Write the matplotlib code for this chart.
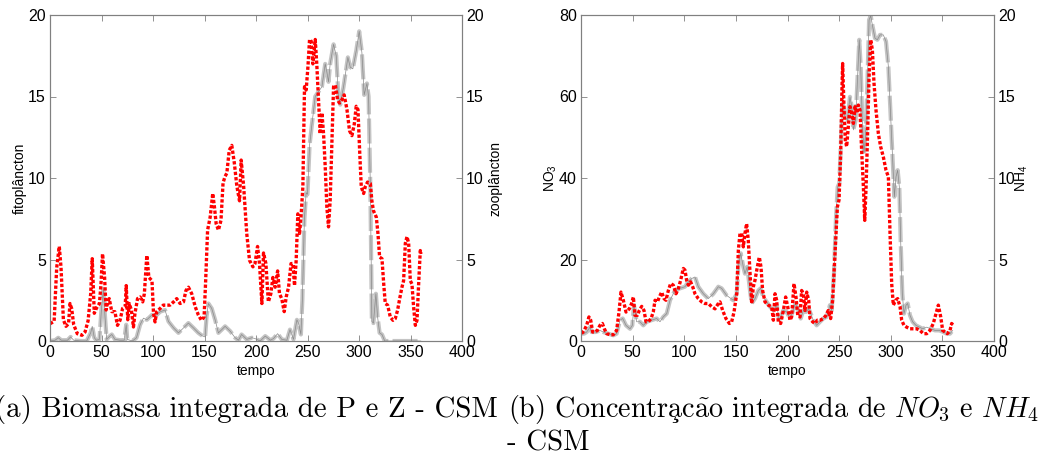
import matplotlib
matplotlib.use("Agg")
import matplotlib.pyplot as plt

# ---------------- data: panel (a) ----------------
fito_t = [0, 4, 6.5, 9, 10.7, 13, 15.5, 18, 19.4, 21, 23, 26.5, 31, 34, 37, 39.5, 41, 43, 45, 48,
          49.5, 51, 53, 54.5, 56, 57.5, 60, 63, 65.5, 68, 70.5, 73, 74, 75.5, 77, 79, 81, 82.5, 85,
          87.5, 90, 91.6, 94, 96, 99, 100.5, 102, 103.6, 107, 110, 113, 116.5, 120, 123, 126.3,
          129.6, 132, 134.4, 137.6, 141, 144, 147, 149.6, 151, 153, 155.5, 158, 159.7, 161.3, 163.5,
          166, 168, 170, 171.7, 174, 176.5, 179, 181.4, 184, 185.6, 188, 191, 193.7, 197, 199,
          201.5, 203.4, 205.7, 207.3, 209.6, 212, 214.4, 216.4, 218.6, 221, 222.8, 225, 227.4,
          229.3, 231.6, 234, 235.8, 237.4, 239, 240.6, 242.3, 243.9, 245.5, 247.1, 248.7, 250.4,
          252, 253.6, 255.2, 257.5, 259, 260.7, 262.3, 264, 265.6, 267.2, 268.8, 270.4, 272, 273.7,
          275.3, 277, 279.2, 281, 283.4, 285.6, 288.3, 290.8, 293.1, 295.4, 297.3, 299, 300.6,
          302.2, 304.5, 306, 308.3, 311, 312.5, 314, 316.8, 318.4, 320, 322.3, 324, 325.5, 327.8,
          330.4, 333, 335.2, 337.5, 339.5, 341.7, 343.3, 345, 346.6, 348.2, 349.8, 351.4, 353,
          354.7, 356.3, 357.9, 359.5, 360.5]
fito_v = [1.06, 1.2, 4.5, 5.8, 4.5, 1.3, 0.9, 1.06, 2.3, 2.0, 1.0, 0.45, 0.35, 0.55, 1.25, 2.9,
          5.05, 1.7, 2.0, 2.3, 3.5, 5.35, 3.9, 1.9, 2.4, 2.6, 1.8, 1.8, 0.96, 1.27, 2.0, 2.1, 3.4,
          1.3, 2.3, 1.9, 0.86, 1.7, 2.6, 2.7, 2.4, 2.9, 5.25, 3.9, 3.7, 1.7, 1.17, 1.8, 2.0, 2.2,
          2.2, 2.2, 2.4, 2.6, 2.3, 2.4, 3.1, 3.3, 2.9, 2.1, 1.6, 1.27, 1.47, 3.5, 6.8, 7.6, 9.05,
          8.2, 7.2, 6.8, 7.4, 9.7, 10.1, 10.3, 11.7, 12.0, 10.9, 9.5, 8.6, 11.1, 9.5, 6.6, 4.95,
          4.55, 4.75, 5.8, 4.75, 2.3, 5.4, 4.75, 2.4, 2.9, 3.9, 3.3, 4.3, 2.9, 2.6, 1.8, 2.7, 3.3,
          4.75, 4.75, 3.4, 4.95, 7.8, 6.6, 7.8, 9.45, 15.6, 15.4, 16.8, 18.5, 18.4, 17.0, 18.5,
          17.0, 14.8, 12.7, 14.0, 12.7, 10.7, 8.2, 7.0, 8.6, 12.3, 15.6, 15.7, 14.8, 14.6, 14.8,
          15.1, 14.2, 12.9, 12.6, 13.3, 14.4, 14.2, 11.7, 9.45, 9.05, 9.45, 9.75, 9.66, 8.6, 8.0,
          7.6, 6.6, 5.15, 5.05, 3.5, 2.3, 2.2, 1.47, 1.27, 1.37, 1.9, 2.6, 3.3, 3.7, 6.0, 6.4,
          6.0, 3.7, 3.5, 2.1, 0.96, 1.27, 3.5, 5.55, 5.35]

zoo_t = [0, 5, 8, 11, 17, 20, 23, 30, 35.6, 39.5, 41, 43, 45, 48, 50, 51.8, 53.4, 55, 58, 60, 63,
         68, 72, 74, 75, 80, 84, 87.5, 90.7, 94, 99, 103.6, 107, 111.7, 115, 120, 124.7, 129.6,
         134.4, 139.3, 144, 148.3, 150.6, 152, 153.8, 157, 160.3, 163.5, 166.8, 170, 175, 179.7,
         183, 186, 191, 196, 199, 204, 209, 214, 217, 221, 225, 230, 233, 236.4, 239.7, 241.3,
         243.6, 245, 247, 248.7, 250, 252, 254.3, 257.5, 260.7, 264, 267.2, 268.8, 270.4, 272,
         275.3, 277.9, 280, 281.8, 285, 289.2, 291.5, 294, 297.3, 300.2, 302.8, 305, 307.7,
         309.3, 311, 312.5, 314, 316.4, 318, 320, 322.3, 325, 340, 360]
zoo_v = [0.0, 0.05, 0.2, 0.05, 0.05, 0.25, 0.05, 0.0, 0.0, 0.5, 0.9, 0.2, 0.05, 0.1, 2.0, 3.2,
         1.5, 0.1, 0.3, 0.4, 0.1, 0.05, 0.05, 1.0, 0.1, 0.0, 0.2, 1.0, 1.4, 1.3, 1.6, 1.6, 1.8,
         1.9, 1.2, 0.8, 0.5, 0.8, 1.1, 0.8, 0.5, 0.3, 0.25, 1.5, 2.3, 2.0, 1.3, 0.5, 0.7, 0.9,
         0.6, 0.2, 0.05, 0.4, 0.1, 0.2, 0.15, 0.0, 0.3, 0.05, 0.15, 0.45, 0.1, 0.05, 0.7, 0.1,
         1.3, 1.1, 0.4, 2.5, 7.5, 9.1, 9.0, 12.0, 13.3, 15.0, 15.3, 15.6, 17.0, 16.5, 15.9,
         17.0, 18.2, 17.5, 15.0, 14.5, 15.6, 17.4, 16.8, 16.7, 17.8, 19.0, 17.7, 15.1, 15.8,
         15.0, 9.5, 1.2, 1.1, 2.9, 1.5, 0.5, 0.4, 0.0, 0.0, 0.0]

# ---------------- data: panel (b) ----------------
no3_t = [0.6, 3, 5.5, 7.7, 9.4, 11.3, 13.6, 15.8, 18.4, 20.7, 22.6, 24.9, 28, 31.3, 34.5, 36.8,
         38.7, 41, 43.6, 46.8, 49, 50.7, 52.3, 54.6, 56.5, 58.8, 61, 63, 65.2, 67.8, 70, 71.7, 74,
         75.9, 78.1, 80.4, 82.3, 84.6, 86.8, 89.4, 92, 94.3, 96.5, 99.1, 100.7, 102.3, 104,
         106.2, 108.2, 110.4, 113.6, 116.9, 120, 123.3, 126.6, 129.8, 133, 134.6, 137.2, 140.4,
         143.7, 145.9, 148.2, 150.8, 152.4, 154, 155.6, 157.2, 158.8, 160.4, 162, 163.7, 165.3,
         166.9, 168.5, 170.8, 172.7, 174.3, 175.9, 178.2, 181.4, 184.7, 186.3, 187.9, 189.5,
         191.1, 193.4, 196, 198.2, 200.2, 202.4, 204, 206.3, 208.2, 209.9, 212.1, 213.7, 215.3,
         216.9, 218.6, 220.5, 221.8, 224.4, 226.7, 228.9, 231.5, 234.7, 237.3, 239.5, 241.8,
         243.7, 245.4, 247, 248.3, 249.9, 251.5, 252.8, 253.4, 254.7, 256, 257.3, 258.9, 260.5,
         262.2, 263.8, 265.4, 267, 268.6, 270.2, 271.8, 273.5, 274.8, 276.1, 277.4, 279, 280.6,
         282.2, 283.8, 285.7, 288, 290.2, 292.8, 295.4, 297.7, 299.3, 300.9, 302.5, 304.8,
         306.7, 309, 310.6, 312.8, 315.4, 318.6, 321.9, 325.1, 328.3, 331.5, 334.8, 338, 341.2,
         343.8, 346.1, 348.4, 350.3, 352.6, 354.8, 357.4, 359, 360.6]
no3_v = [1.8, 2.6, 3.85, 5.9, 5.1, 2.2, 2.2, 2.6, 3.85, 4.3, 3.0, 1.8, 1.55, 1.55, 2.6, 7.1,
         12.0, 10.0, 7.1, 7.9, 9.2, 10.8, 6.3, 6.3, 7.5, 8.5, 7.5, 4.7, 4.7, 5.5, 7.1, 10.0, 9.6,
         10.8, 12.0, 10.4, 10.0, 12.4, 14.1, 13.7, 11.6, 12.9, 14.9, 17.8, 17.4, 14.9, 13.7,
         14.5, 13.3, 11.6, 10.4, 9.6, 9.2, 9.2, 8.4, 7.9, 9.2, 9.6, 7.5, 5.5, 4.3, 4.7, 7.1,
         11.6, 22.3, 26.4, 26.4, 23.1, 26.4, 28.8, 24.7, 16.5, 9.2, 13.3, 14.9, 18.2, 20.6,
         18.2, 12.4, 9.6, 8.8, 8.4, 5.1, 11.6, 10.0, 4.7, 4.3, 7.5, 10.8, 8.4, 5.1, 5.9, 14.1,
         10.8, 6.3, 5.9, 12.4, 11.6, 7.5, 12.0, 10.0, 5.5, 4.7, 4.3, 5.1, 5.1, 5.5, 6.3, 7.5,
         5.5, 10.0, 18.2, 26.4, 32.9, 34.6, 46.0, 62.4, 68.1, 57.5, 49.3, 47.7, 52.6, 57.5,
         55.9, 53.4, 57.5, 55.9, 57.9, 56.7, 46.8, 37.8, 29.6, 37.8, 49.3, 64.9, 73.9, 71.4,
         63.2, 56.7, 50.9, 47.7, 45.2, 41.9, 40.3, 26.4, 14.1, 8.8, 10.0, 10.4, 8.4, 5.1, 3.85,
         3.4, 3.0, 3.0, 3.0, 2.6, 1.8, 1.8, 2.6, 4.3, 6.7, 8.8, 5.9, 2.6, 2.2, 1.8, 2.6, 4.3,
         3.85]

nh4_t = [0, 3, 5.5, 8.7, 10.3, 14.5, 18.4, 21.6, 26.5, 31.3, 34.5, 37.8, 40.4, 43.6, 47.5,
         49.7, 51.3, 53.9, 57.1, 60.4, 63.6, 68.4, 73.3, 76.5, 79.7, 83, 86.2, 91, 95.9, 100.7,
         104, 107.2, 110.4, 113.6, 118.5, 123.3, 128.2, 133, 136.2, 141, 147.5, 150.8, 152.4,
         154.7, 157.2, 158.8, 161, 163.7, 165.3, 168.5, 171.8, 174, 176.6, 179.8, 183, 186.3,
         189.5, 192, 196, 199.2, 202.4, 205, 207.6, 210.5, 212.8, 215.3, 217.9, 220.5, 222.4,
         225, 228.2, 231.5, 234.7, 237.9, 241.1, 242.8, 245, 247, 248.6, 250.2, 251.8, 253.4,
         255.7, 258, 260.5, 262.2, 263.8, 266, 267.6, 269.5, 270.9, 272.5, 274.1, 275.7, 277.4,
         279, 280.6, 282.5, 284.7, 287, 289.6, 292.8, 295.4, 297.7, 299.9, 301.9, 303.5, 305.1,
         306.7, 308.3, 309.6, 311.2, 312.8, 314.8, 316.4, 318.6, 321.2, 324.4, 327.7, 330.9,
         334.8, 338.7, 342.9, 347.1, 351, 354.2, 357.4, 360]
nh4_v = [0.45, 0.45, 0.55, 0.85, 0.55, 0.55, 0.65, 0.55, 0.45, 0.35, 0.45, 1.28, 1.38, 0.96,
         0.75, 0.96, 2.2, 1.18, 1.18, 0.96, 1.18, 1.28, 1.38, 1.18, 1.48, 1.68, 2.5, 3.1, 3.23,
         3.33, 3.63, 3.83, 3.93, 3.33, 2.9, 2.6, 2.9, 3.33, 3.23, 2.8, 2.5, 2.9, 4.55, 5.38,
         4.55, 4.13, 4.55, 3.1, 2.3, 2.6, 3.1, 3.23, 2.7, 2.4, 2.1, 1.88, 2.2, 1.28, 1.88, 1.78,
         1.38, 1.78, 2.3, 1.88, 1.38, 1.88, 1.78, 1.98, 1.68, 1.28, 0.96, 1.18, 1.38, 1.48, 2.2,
         1.88, 4.13, 7.63, 9.45, 9.68, 12.33, 14.58, 13.75, 13.55, 14.98, 14.38, 12.95, 13.55,
         15.8, 18.48, 16.83, 13.35, 11.5, 12.73, 15.8, 19.7, 19.95, 19.28, 18.58, 18.48, 18.78,
         18.78, 18.38, 16.83, 13.75, 11.1, 8.85, 10.08, 10.48, 9.45, 6.18, 2.9, 1.68, 2.2, 2.3,
         1.58, 1.18, 0.96, 0.85, 0.75, 0.85, 0.75, 0.65, 0.65, 0.55, 0.45, 0.45, 0.65]

xticks = [0, 50, 100, 150, 200, 250, 300, 350, 400]
caption_a = "(a) Biomassa integrada de P e Z - CSM"
caption_b = r"(b) Concentra$\mathrm{\c{c}\tilde{a}}$o integrada de $NO_3$ e $NH_4$"
caption_b2 = "- CSM"

plt.rcParams["mathtext.fontset"] = "cm"
plt.rcParams["font.family"] = ["Liberation Sans", "DejaVu Sans"]

W, H = 1040, 463
fig = plt.figure(figsize=(W / 100, H / 100), dpi=100)

SPINE = "#808080"
RED_KW = dict(color="red", lw=2.4, linestyle=(0, (1.0, 0.6)), solid_capstyle="butt")
GRAY_KW = dict(color="#c4c4c4", lw=3.0, linestyle=(0, (6, 1)))
THIN_KW = dict(color="#8a8a8a", lw=0.5)


def style(ax, left=True):
    for s in ax.spines.values():
        s.set_color(SPINE)
        s.set_linewidth(0.8)
    ax.tick_params(direction="in", length=4, width=0.6, color=SPINE, labelsize=11.5,
                   top=True, bottom=True, left=left, right=not left,
                   labelleft=left, labelright=not left, pad=3)


def panel(rect, lt, lv, rt, rv, lmax, rmax, lticks, rticks, llabel, rlabel, lpad, rpad):
    ax = fig.add_axes(rect)
    ax2 = ax.twinx()
    ax2.plot(rt, rv, **GRAY_KW)
    ax2.plot(rt, rv, **THIN_KW)
    ax.plot(lt, lv, **RED_KW)
    ax.set_zorder(ax2.get_zorder() + 1)
    ax.patch.set_visible(False)
    ax.set_xlim(0, 400)
    ax.set_ylim(0, lmax)
    ax2.set_ylim(0, rmax)
    ax.set_xticks(xticks)
    ax.set_yticks(lticks)
    ax2.set_yticks(rticks)
    style(ax, True)
    style(ax2, False)
    ax2.tick_params(top=False, bottom=False)
    ax.set_xlabel("tempo", fontsize=10, labelpad=3)
    ax.set_ylabel(llabel, fontsize=10, labelpad=lpad)
    ax2.set_ylabel(rlabel, fontsize=10, labelpad=rpad)
    return ax, ax2


panel([50 / W, 122 / H, 412 / W, 326 / H], fito_t, fito_v, zoo_t, zoo_v, 20, 20,
      [0, 5, 10, 15, 20], [0, 5, 10, 15, 20], "fitoplâncton", "zooplâncton", 1, 3)
panel([581 / W, 122 / H, 413 / W, 326 / H], no3_t, no3_v, nh4_t, nh4_v, 80, 20,
      [0, 20, 40, 60, 80], [0, 5, 10, 15, 20], r"$\mathregular{NO_3}$", r"$\mathregular{NH_4}$",
      0, -2)

cap_kw = dict(family=["cmr10", "DejaVu Serif"], va="center")
fig.text(-5 / W, 1 - 410 / H, caption_a, ha="left", fontsize=20.8, **cap_kw)
fig.text(508 / W, 1 - 410 / H, caption_b, ha="left", fontsize=20.3, **cap_kw)
fig.text(548 / W, 1 - 443 / H, caption_b2, ha="center", fontsize=20.8, **cap_kw)

fig.savefig("out.png", dpi=100)
